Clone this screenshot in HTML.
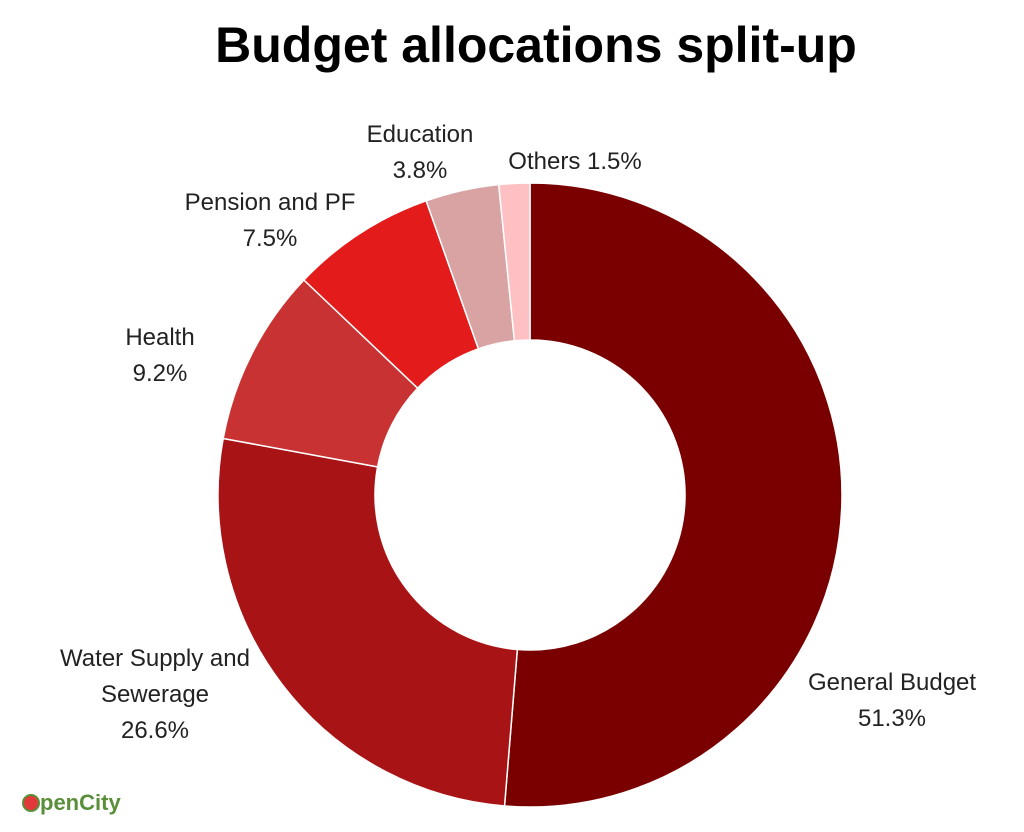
<!DOCTYPE html>
<html><head><meta charset="utf-8"><style>
body{margin:0;background:#fff;width:1024px;height:832px;overflow:hidden;font-family:"Liberation Sans",sans-serif}
.t{position:absolute;left:24px;width:1024px;text-align:center;top:16px;font-size:50px;font-weight:bold;color:#000}
.l{position:absolute;font-size:24px;color:#222;text-align:center;line-height:36px}
</style></head><body>
<div class="t">Budget allocations split-up</div>
<svg id="s" width="1024" height="832" style="position:absolute;left:0;top:0"></svg>
<div class="l" style="left:330px;top:117px;width:180px">Education<br>3.8%</div>
<div class="l" style="left:485px;top:144px;width:180px">Others 1.5%</div>
<div class="l" style="left:160px;top:185px;width:220px">Pension and PF<br>7.5%</div>
<div class="l" style="left:85px;top:320px;width:150px">Health<br>9.2%</div>
<div class="l" style="left:30px;top:641px;width:250px">Water Supply and<br>Sewerage<br>26.6%</div>
<div class="l" style="left:782px;top:665px;width:220px">General Budget<br>51.3%</div>
<div style="position:absolute;left:22px;top:790px;font-size:22px;font-weight:bold;color:#5a8f3a"><span style="display:inline-block;width:14px;height:14px;border-radius:50%;background:#e23a3a;border:2px solid #5a8f3a;vertical-align:-2px"></span>pen<span style="color:#5a8f3a">City</span></div>
<script>
var d=[[51.3,"#7a0000"],[26.6,"#a81416"],[9.2,"#c93232"],[7.5,"#e31b1b"],[3.8,"#d9a3a3"],[1.6,"#ffc0c4"]];
var cx=530,cy=495,R=312,r=155,a=-Math.PI/2,h="";
function p(rr,t){return (cx+rr*Math.cos(t)).toFixed(2)+","+(cy+rr*Math.sin(t)).toFixed(2)}
d.forEach(function(e){var b=a+e[0]/100*2*Math.PI,lg=(b-a)>Math.PI?1:0;
h+='<path d="M'+p(R,a)+' A'+R+','+R+' 0 '+lg+' 1 '+p(R,b)+' L'+p(r,b)+' A'+r+','+r+' 0 '+lg+' 0 '+p(r,a)+' Z" fill="'+e[1]+'" stroke="#fff" stroke-width="1.5"/>';a=b;});
document.getElementById("s").innerHTML=h;
</script>
</body></html>
